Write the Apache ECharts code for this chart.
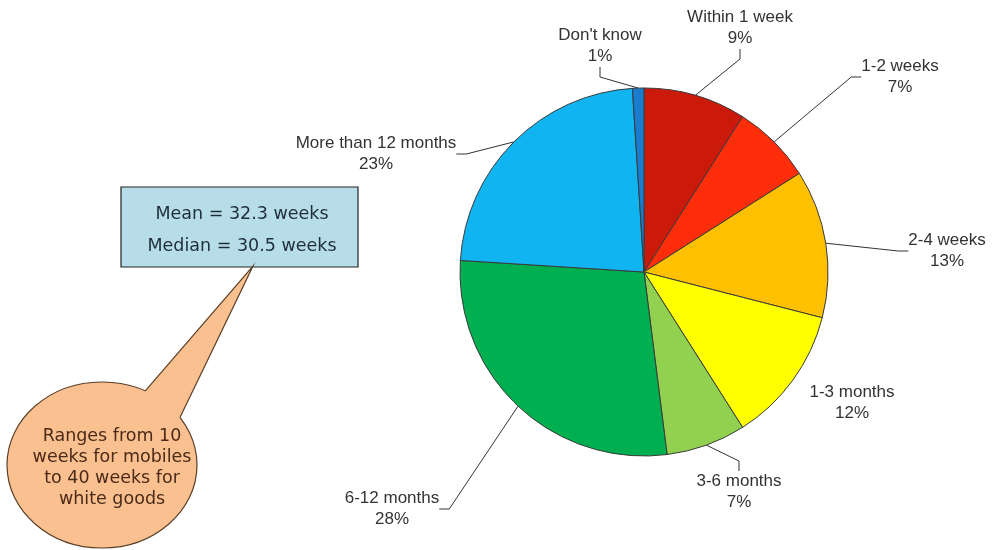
<!DOCTYPE html>
<html>
<head>
<meta charset="utf-8">
<script src="https://cdn.jsdelivr.net/npm/echarts@6/dist/echarts.min.js"></script>
<style>
html,body{margin:0;padding:0;background:#fff;}
#chart{width:994px;height:550px;}
</style>
</head>
<body>
<div id="chart"></div>
<script>
// ---- data ----
var categories = ['Within 1 week','1-2 weeks','2-4 weeks','1-3 months','3-6 months','6-12 months','More than 12 months',"Don't know"];
var shares = [9, 7, 13, 12, 7, 28, 23, 1];
var sliceColors = ['#cc1a0a','#ff2d0a','#ffc000','#ffff00','#92d050','#00b050','#10b4f0','#1a7ccc'];
var statLines = ['Mean = 32.3 weeks','Median = 30.5 weeks'];
var bubbleLines = ['Ranges from 10','weeks for mobiles','to 40 weeks for','white goods'];

// ---- layout (label block centres) ----
var labelCentres = [[740,28],[900,77],[947,251],[852,403],[739,492],[392,509],[376,154],[600,46]];

var chart = echarts.init(document.getElementById('chart'));

// bubble geometry
var ec = {cx:102, cy:465, rx:95, ry:83};
var tip = [253,266];
var baseL = [152,383], baseR = [187,403];
function ellipseHit(p){
  var lo=0, hi=3;
  function inside(t){var x=tip[0]+(p[0]-tip[0])*t, y=tip[1]+(p[1]-tip[1])*t;
    return ((x-ec.cx)*(x-ec.cx))/(ec.rx*ec.rx)+((y-ec.cy)*(y-ec.cy))/(ec.ry*ec.ry) <= 1;}
  for(var i=0;i<40;i++){var m=(lo+hi)/2; if(inside(m)) hi=m; else lo=m;}
  return [tip[0]+(p[0]-tip[0])*hi, tip[1]+(p[1]-tip[1])*hi];
}
var hitL = ellipseHit(baseL), hitR = ellipseHit(baseR);
function inner(p){return [tip[0]+(p[0]-tip[0])*1.12, tip[1]+(p[1]-tip[1])*1.12];}

var option = {
  animation:false,
  backgroundColor:'#ffffff',
  series:[{
    type:'pie',
    center:[644,272],
    radius:184,
    startAngle:90,
    clockwise:true,
    data: categories.map(function(c,i){
      return {name:c, value:shares[i], itemStyle:{color:sliceColors[i]},
        labelLine:{show: i!==3}};
    }),
    itemStyle:{borderColor:'#3a3a3a', borderWidth:1},
    label:{
      show:true,
      formatter:'{b}\n{c}%',
      fontFamily:'Liberation Sans, Arial, sans-serif',
      fontSize:17,
      lineHeight:21,
      color:'#333333',
      align:'center'
    },
    labelLine:{show:true, lineStyle:{color:'#333333', width:1}, length:10, length2:10},
    labelLayout:function(p){
      var c = labelCentres[p.dataIndex];
      return {x:c[0], y:c[1], align:'center', verticalAlign:'middle'};
    },
    emphasis:{disabled:true}
  }],
  graphic:[
    {type:'rect', shape:{x:121,y:187,width:237,height:80},
     style:{fill:'#b7dde8', stroke:'#222222', lineWidth:1.2}, z:10},
    {type:'text', x:242, y:214, z:11,
     style:{text:statLines[0], fill:'#1e2e3a', font:'17.5px "DejaVu Sans", Verdana, sans-serif', align:'center', verticalAlign:'middle'}},
    {type:'text', x:242, y:246, z:11,
     style:{text:statLines[1], fill:'#1e2e3a', font:'17.5px "DejaVu Sans", Verdana, sans-serif', align:'center', verticalAlign:'middle'}},
    {type:'ellipse', shape:ec, style:{fill:'#fac090', stroke:'#5a4028', lineWidth:1.2}, z:10},
    {type:'polygon', shape:{points:[tip, inner(baseL), inner(baseR)]}, style:{fill:'#fac090'}, z:11},
    {type:'polyline', shape:{points:[hitL, tip, hitR]}, style:{stroke:'#5a4028', lineWidth:1.2, fill:null}, z:12},
    {type:'text', x:112, y:468, z:13,
     style:{text:bubbleLines.join('\n'), fill:'#4a2a18', font:'17.5px "DejaVu Sans", Verdana, sans-serif', lineHeight:21, align:'center', verticalAlign:'middle'}}
  ]
};
chart.setOption(option);
</script>
</body>
</html>
